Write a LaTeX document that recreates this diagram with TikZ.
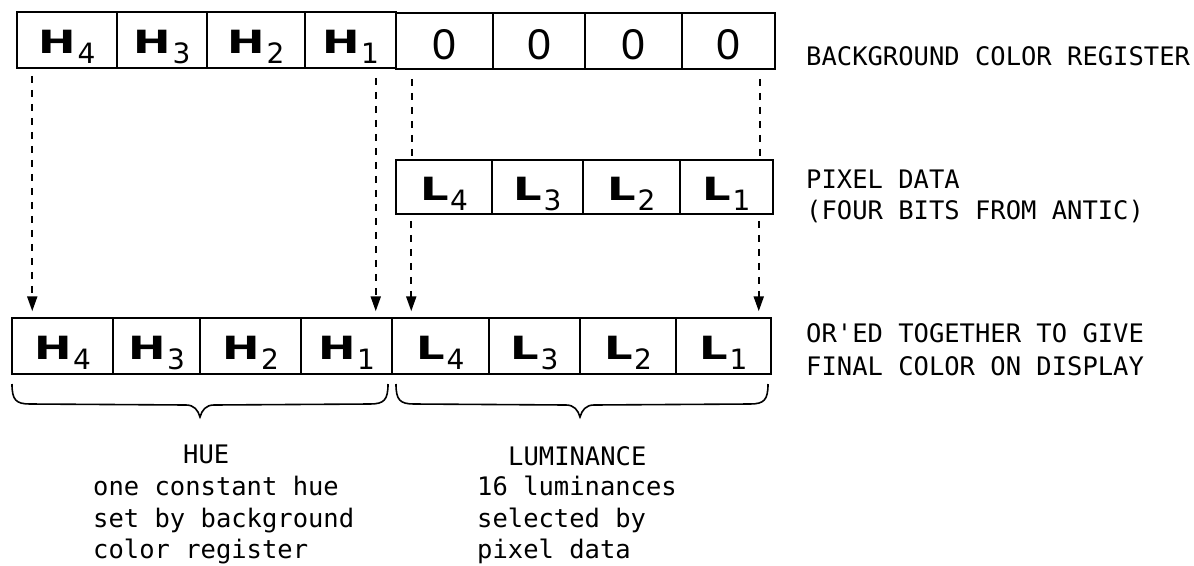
\documentclass[tikz,border=0pt]{standalone}
\usepackage{fontspec}
\usepackage{graphicx}
\setmainfont{DejaVu Sans}
\newfontfamily\monofnt{DejaVu Sans Mono}
\newfontfamily\zerofnt{Liberation Sans}
\usetikzlibrary{arrows.meta}
\newcommand\bitL[2]{\scalebox{1.4}[1]{\fontsize{32}{32}\selectfont\bfseries #1}\hspace{1.5pt}\raisebox{-10pt}{\fontsize{28}{28}\selectfont #2}}
\newcommand\zerobit{{\zerofnt\fontsize{43}{43}\selectfont 0}}
\tikzset{
  cellH/.style={draw, line width=1.5pt, inner sep=0pt, text height=27pt, text depth=0pt},
  cellZ/.style={draw, line width=1.5pt, inner sep=0pt, text height=37pt, text depth=0pt},
  dashline/.style={line width=2.2pt, dash pattern=on 7pt off 7pt},
  dasharr/.style={dashline, -{Triangle[length=15pt,width=10pt]}},
  bracestyle/.style={line width=1.6pt},
  lbl/.style={font=\monofnt\fontsize{25.5}{31}\selectfont, anchor=base west, inner sep=0pt}
}
\begin{document}
\begin{tikzpicture}[x=1pt,y=-1pt]
\useasboundingbox (0,0) rectangle (1194,565);
% top register
\node[cellH, minimum width=100pt, minimum height=56pt] (t1) at (67,40) {\bitL{H}{4}};
\node[cellH, minimum width=90pt, minimum height=56pt] (t2) at (162,40) {\bitL{H}{3}};
\node[cellH, minimum width=98pt, minimum height=56pt] (t3) at (256,40) {\bitL{H}{2}};
\node[cellH, minimum width=91pt, minimum height=56pt] (t4) at (350.5,40) {\bitL{H}{1}};
\node[cellZ, minimum width=97pt, minimum height=56pt] (t5) at (444.5,41) {\zerobit};
\node[cellZ, minimum width=92pt, minimum height=56pt] (t6) at (539,41) {\zerobit};
\node[cellZ, minimum width=97pt, minimum height=56pt] (t7) at (633.5,41) {\zerobit};
\node[cellZ, minimum width=93pt, minimum height=56pt] (t8) at (728.5,41) {\zerobit};
% pixel data register
\node[cellH, minimum width=96pt, minimum height=54pt] (p4) at (444,187) {\bitL{L}{4}};
\node[cellH, minimum width=91pt, minimum height=54pt] (p3) at (537.5,187) {\bitL{L}{3}};
\node[cellH, minimum width=97pt, minimum height=54pt] (p2) at (631.5,187) {\bitL{L}{2}};
\node[cellH, minimum width=93pt, minimum height=54pt] (p1) at (726.5,187) {\bitL{L}{1}};
% result register
\node[cellH, minimum width=101pt, minimum height=56pt] (b1) at (62.5,346) {\bitL{H}{4}};
\node[cellH, minimum width=87pt, minimum height=56pt] (b2) at (156.5,346) {\bitL{H}{3}};
\node[cellH, minimum width=101pt, minimum height=56pt] (b3) at (250.5,346) {\bitL{H}{2}};
\node[cellH, minimum width=91pt, minimum height=56pt] (b4) at (346.5,346) {\bitL{H}{1}};
\node[cellH, minimum width=97pt, minimum height=56pt] (b5) at (440.5,346) {\bitL{L}{4}};
\node[cellH, minimum width=91pt, minimum height=56pt] (b6) at (534.5,346) {\bitL{L}{3}};
\node[cellH, minimum width=96pt, minimum height=56pt] (b7) at (628,346) {\bitL{L}{2}};
\node[cellH, minimum width=95pt, minimum height=56pt] (b8) at (723.5,346) {\bitL{L}{1}};
% dashed arrows
\draw[dasharr] ([xshift=16pt,yshift=-7pt]t1.south west) -- ([xshift=21pt,yshift=6pt]b1.north west);
\draw[dasharr] ([xshift=-21pt,yshift=-9pt]t4.south east) -- ([xshift=-17pt,yshift=6pt]b4.north east);
\draw[dashline] ([xshift=17pt,yshift=-9pt]t5.south west) -- ([xshift=17pt]p4.north west);
\draw[dasharr] ([xshift=16pt,yshift=-6pt]p4.south west) -- ([xshift=20pt,yshift=6pt]b5.north west);
\draw[dashline] ([xshift=-16pt,yshift=-9pt]t8.south east) -- ([xshift=-14pt]p1.north east);
\draw[dasharr] ([xshift=-15pt,yshift=-6pt]p1.south east) -- ([xshift=-13pt,yshift=6pt]b8.north east);
% braces
\draw[bracestyle] (12,384) .. controls (12,400) and (16,404) .. (30,404) -- (186,405)
  .. controls (194,405) and (198,410) .. (200,417) .. controls (202,410) and (206,405) .. (214,405)
  -- (370,404) .. controls (384,404) and (388,400) .. (388,384);
\draw[bracestyle] (396,384) .. controls (396,400) and (400,404) .. (414,404) -- (566,405)
  .. controls (574,405) and (578,410) .. (580,417) .. controls (582,410) and (586,405) .. (594,405)
  -- (750,404) .. controls (764,404) and (768,400) .. (768,384);
% labels
\node[lbl] (lbg) at (806,65) {BACKGROUND COLOR REGISTER};
\node[lbl] (lpx1) at (806,188) {PIXEL DATA};
\node[lbl] (lpx2) at (806,219) {(FOUR BITS FROM ANTIC)};
\node[lbl] (lor1) at (806,342) {OR'ED TOGETHER TO GIVE};
\node[lbl] (lor2) at (806,375) {FINAL COLOR ON DISPLAY};
\node[lbl] (lhue) at (183,463) {HUE};
\node[lbl] (lhue1) at (93,495) {one constant hue};
\node[lbl] (lhue2) at (93,527) {set by background};
\node[lbl] (lhue3) at (93,558) {color register};
\node[lbl] (llum) at (508,465) {LUMINANCE};
\node[lbl] (llum1) at (477,495) {16 luminances};
\node[lbl] (llum2) at (477,527) {selected by};
\node[lbl] (llum3) at (477,558) {pixel data};
\end{tikzpicture}
\end{document}
